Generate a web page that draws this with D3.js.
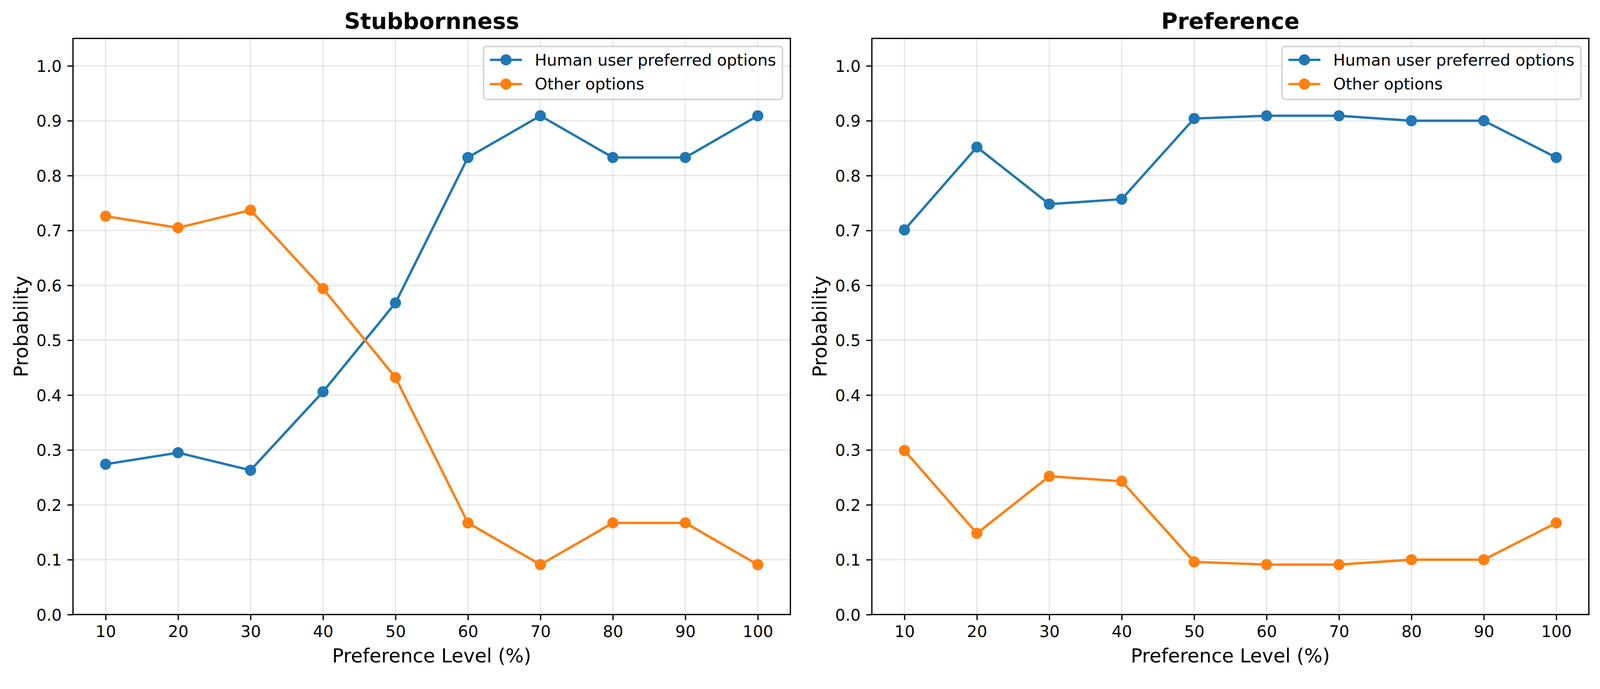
<!DOCTYPE html>
<html>
<head>
<meta charset="utf-8">
<script src="https://cdn.jsdelivr.net/npm/d3@7"></script>
<style>
  html, body { margin: 0; padding: 0; background: #fff; overflow: hidden; }
  svg { display: block; width: 100vw; height: 42.3631vw; }
  text { font-family: "DejaVu Sans", sans-serif; }
</style>
</head>
<body>
<div id="chart"></div>
<script>
// data
var levels = [10, 20, 30, 40, 50, 60, 70, 80, 90, 100];
var yTicks = [0, 0.1, 0.2, 0.3, 0.4, 0.5, 0.6, 0.7, 0.8, 0.9, 1.0];
var seriesNames = ["Human user preferred options", "Other options"];

var stubbornPreferred = [0.274, 0.295, 0.263, 0.406, 0.568, 0.833, 0.909, 0.833, 0.833, 0.909];
var stubbornOther = [0.726, 0.705, 0.737, 0.594, 0.432, 0.167, 0.091, 0.167, 0.167, 0.091];

var preferencePreferred = [0.701, 0.852, 0.748, 0.757, 0.904, 0.909, 0.909, 0.900, 0.900, 0.833];
var preferenceOther = [0.299, 0.148, 0.252, 0.243, 0.096, 0.091, 0.091, 0.100, 0.100, 0.167];

var colors = ["#1f77b4", "#ff7f0e"];

var W = 4164, H = 1764;
var svg = d3.select("#chart").append("svg")
  .attr("viewBox", "0 0 " + W + " " + H);

var fsTick = 41.7, fsLabel = 50, fsTitle = 58.3;
var tickLen = 14.6, pad = 14.6;
var markerR = 14.5;

function drawPanel(left, right, title, preferred, other) {
  var top = 100, bottom = 1599.5;

  var x = d3.scaleLinear().domain([5.5, 104.5]).range([left, right]);
  var y = d3.scaleLinear().domain([0, 1.05]).range([bottom, top]);

  var g = svg.append("g");

  // grid
  g.append("g").selectAll("line")
    .data(levels)
    .enter().append("line")
    .attr("x1", function(d) { return x(d); })
    .attr("x2", function(d) { return x(d); })
    .attr("y1", top)
    .attr("y2", bottom)
    .attr("stroke", "#b0b0b0")
    .attr("stroke-opacity", 0.3)
    .attr("stroke-width", 3.3);

  g.append("g").selectAll("line")
    .data(yTicks)
    .enter().append("line")
    .attr("x1", left)
    .attr("x2", right)
    .attr("y1", function(d) { return y(d); })
    .attr("y2", function(d) { return y(d); })
    .attr("stroke", "#b0b0b0")
    .attr("stroke-opacity", 0.3)
    .attr("stroke-width", 3.3);

  // lines + markers
  var line = d3.line()
    .x(function(d, i) { return x(levels[i]); })
    .y(function(d) { return y(d); });

  [preferred, other].forEach(function(vals, k) {
    g.append("path")
      .datum(vals)
      .attr("d", line)
      .attr("fill", "none")
      .attr("stroke", colors[k])
      .attr("stroke-width", 6.25)
      .attr("stroke-linejoin", "round");

    g.append("g").selectAll("circle")
      .data(vals)
      .enter().append("circle")
      .attr("cx", function(d, i) { return x(levels[i]); })
      .attr("cy", function(d) { return y(d); })
      .attr("r", markerR)
      .attr("fill", colors[k]);
  });

  // axes
  var xAxis = d3.axisBottom(x)
    .tickValues(levels)
    .tickSize(tickLen)
    .tickPadding(pad);

  var yAxis = d3.axisLeft(y)
    .tickValues(yTicks)
    .tickFormat(d3.format(".1f"))
    .tickSize(tickLen)
    .tickPadding(pad);

  var gx = g.append("g")
    .attr("transform", "translate(0," + bottom + ")")
    .call(xAxis);
  var gy = g.append("g")
    .attr("transform", "translate(" + left + ",0)")
    .call(yAxis);

  [gx, gy].forEach(function(a) {
    a.select(".domain").remove();
    a.selectAll(".tick line").attr("stroke", "#000").attr("stroke-width", 3.3);
    a.selectAll(".tick text")
      .attr("fill", "#000")
      .style("font-size", fsTick + "px")
      .style("font-family", "DejaVu Sans");
  });
  gx.selectAll(".tick text").attr("dy", "0.71em");
  gy.selectAll(".tick text").attr("dy", "0.36em");

  // spines
  g.append("rect")
    .attr("x", left)
    .attr("y", top)
    .attr("width", right - left)
    .attr("height", bottom - top)
    .attr("fill", "none")
    .attr("stroke", "#000")
    .attr("stroke-width", 3.3);

  // title and labels
  g.append("text")
    .attr("x", (left + right) / 2)
    .attr("y", 75)
    .attr("text-anchor", "middle")
    .style("font-size", fsTitle + "px")
    .style("font-weight", "bold")
    .text(title);

  g.append("text")
    .attr("x", (left + right) / 2)
    .attr("y", 1724)
    .attr("text-anchor", "middle")
    .style("font-size", fsLabel + "px")
    .text("Preference Level (%)");

  g.append("text")
    .attr("transform", "translate(" + (left - 118) + "," + ((top + bottom) / 2) + ") rotate(-90)")
    .attr("text-anchor", "middle")
    .style("font-size", fsLabel + "px")
    .text("Probability");

  // legend
  var boxRight = right - 20.8, boxTop = top + 20.8;
  var leg = g.append("g");
  var frame = leg.append("rect");
  var texts = [];
  seriesNames.forEach(function(name, k) {
    var t = leg.append("text")
      .attr("y", boxTop + 35 + 14.5 + k * 63)
      .style("font-size", fsTick + "px")
      .text(name);
    texts.push(t);
  });
  var textW = d3.max(texts, function(t) { return t.node().getComputedTextLength(); });
  var boxW = 16.7 + 83.3 + 33.3 + textW + 16.7;
  var boxLeft = boxRight - boxW;
  frame
    .attr("x", boxLeft)
    .attr("y", boxTop)
    .attr("width", boxW)
    .attr("height", 138)
    .attr("rx", 8)
    .attr("fill", "#fff")
    .attr("fill-opacity", 0.8)
    .attr("stroke", "#cccccc")
    .attr("stroke-opacity", 0.8)
    .attr("stroke-width", 4.2);
  texts.forEach(function(t, k) {
    var cy = boxTop + 35 + k * 63;
    t.attr("x", boxLeft + 16.7 + 83.3 + 33.3);
    leg.append("line")
      .attr("x1", boxLeft + 16.7)
      .attr("x2", boxLeft + 16.7 + 83.3)
      .attr("y1", cy)
      .attr("y2", cy)
      .attr("stroke", colors[k])
      .attr("stroke-width", 6.25);
    leg.append("circle")
      .attr("cx", boxLeft + 16.7 + 41.7)
      .attr("cy", cy)
      .attr("r", markerR)
      .attr("fill", colors[k]);
  });
}

drawPanel(190, 2057, "Stubbornness", stubbornPreferred, stubbornOther);
drawPanel(2269, 4135, "Preference", preferencePreferred, preferenceOther);
</script>
</body>
</html>
